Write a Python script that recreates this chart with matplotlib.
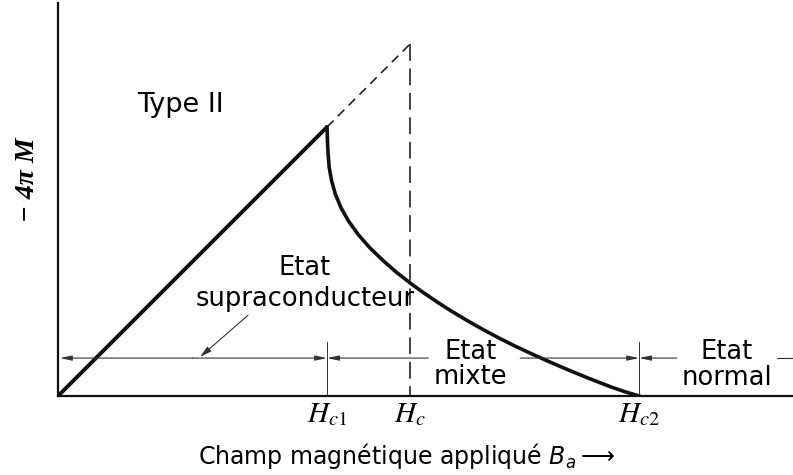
import matplotlib
matplotlib.use('Agg')
import matplotlib.pyplot as plt

# champ en unites de Hc1, aimantation en unites de -4piM(Hc1)
HC1 = 1.0
HC = 1.31
HC2 = 2.16

meissner_b = [0.0, HC1]
meissner_m = [0.0, 1.0]

# prolongement en pointilles jusqu'a Hc (type I)
ext_b = [HC1, HC, HC]
ext_m = [1.0, 1.31, 0.0]

# etat mixte : de Hc1 a Hc2
mixed_b = [1.000, 1.0015, 1.004, 1.008, 1.017, 1.031, 1.052, 1.080, 1.116,
           1.160, 1.212, 1.258, 1.309, 1.36, 1.41, 1.46, 1.52, 1.58, 1.64,
           1.70, 1.76, 1.82, 1.88, 1.94, 2.00, 2.06, 2.11, 2.16]
mixed_m = [1.000, 0.95, 0.90, 0.85, 0.80, 0.75, 0.70, 0.65, 0.60,
           0.55, 0.50, 0.46, 0.420, 0.383, 0.349, 0.317, 0.281, 0.247, 0.215,
           0.185, 0.157, 0.130, 0.104, 0.079, 0.055, 0.032, 0.015, 0.0]

tick_pos = [HC1, HC, HC2]
tick_labels = [r'$H_{c1}$', r'$H_c$', r'$H_{c2}$']

ARROW_Y = 0.141
B_MAX = 2.732
M_MAX = 1.461

plt.rcParams['font.family'] = 'DejaVu Sans'

fig = plt.figure(figsize=(7.93, 4.75), dpi=100)
ax = fig.add_axes([58 / 793, 79 / 475, 735 / 793, 393 / 475])

ink = '#111111'
thin = '#333333'

ax.plot(meissner_b, meissner_m, color=ink, lw=2.8, solid_capstyle='butt')
ax.plot(mixed_b, mixed_m, color=ink, lw=2.6, solid_joinstyle='round')
ax.plot(ext_b[:2], ext_m[:2], color=ink, lw=1.1, dashes=(6, 4))
ax.plot(ext_b[1:], ext_m[1:], color=ink, lw=1.1, dashes=(11, 5))

# reperes verticaux a Hc1 et Hc2
for b in (HC1, HC2):
    ax.plot([b, b], [0, 0.2], color=thin, lw=0.7)

def arrow(tip, tail, y=ARROW_Y):
    ax.annotate('', xy=(tip, y), xytext=(tail, y),
                arrowprops=dict(arrowstyle='-|>,head_length=0.7,head_width=0.15',
                                color=thin, lw=0.8, shrinkA=0, shrinkB=0))

def segment(b0, b1, y=ARROW_Y):
    ax.plot([b0, b1], [y, y], color=thin, lw=0.8)

arrow(0.007, 0.5)
arrow(HC1, 0.5)
arrow(HC1, 1.376)
arrow(HC2, 1.718)
arrow(HC2, 2.30)
segment(2.673, B_MAX)

# fleche vers la zone supraconductrice
ax.annotate('', xy=(0.528, ARROW_Y + 0.004), xytext=(0.706, 0.30),
            arrowprops=dict(arrowstyle='-|>,head_length=0.7,head_width=0.18',
                            color=thin, lw=0.8, shrinkA=0, shrinkB=0))

fs = 18.5
ax.text(0.454, 1.082, 'Type II', fontsize=19.5, ha='center', va='center')
ax.text(0.918, 0.476, 'Etat', fontsize=fs, ha='center', va='center')
ax.text(0.918, 0.361, 'supraconducteur', fontsize=fs, ha='center', va='center')
ax.text(1.532, 0.164, 'Etat', fontsize=fs, ha='center', va='center')
ax.text(1.532, 0.071, 'mixte', fontsize=fs, ha='center', va='center')
ax.text(2.487, 0.164, 'Etat', fontsize=fs, ha='center', va='center')
ax.text(2.487, 0.067, 'normal', fontsize=fs, ha='center', va='center')

ax.set_xlim(0, B_MAX)
ax.set_ylim(0, M_MAX)
ax.set_xticks(tick_pos)
ax.set_xticklabels(tick_labels, fontsize=21, math_fontfamily='stix')
ax.tick_params(axis='x', length=0, pad=3)
ax.set_yticks([])

for side in ('top', 'right'):
    ax.spines[side].set_visible(False)
for side in ('left', 'bottom'):
    ax.spines[side].set_linewidth(1.6)
    ax.spines[side].set_color(ink)

fig.text(407 / 793, 1 - 456 / 475, r'Champ magnétique appliqué $B_a$$\longrightarrow$',
         fontsize=17, ha='center', va='center', math_fontfamily='dejavusans')
fig.text(27 / 793, 1 - 180 / 475, '− 4π M', fontsize=20, rotation=90,
         ha='center', va='center', style='italic', weight='bold',
         family=['Liberation Serif', 'DejaVu Serif'])

fig.savefig('out.png', dpi=100)
